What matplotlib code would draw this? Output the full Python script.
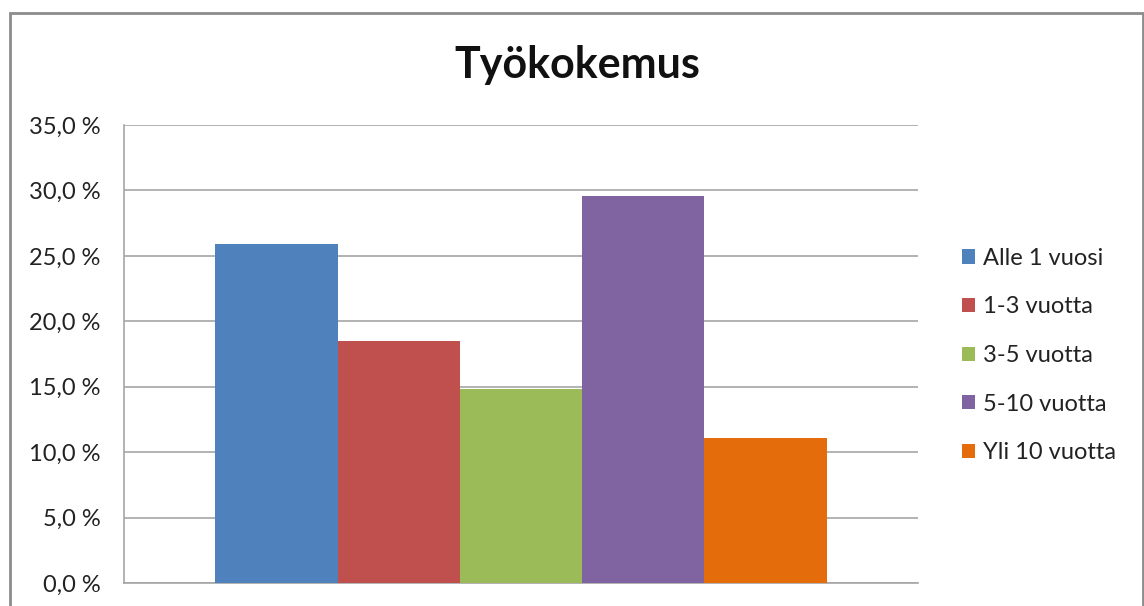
import numpy as np
import matplotlib
matplotlib.use("Agg")
import matplotlib.pyplot as plt
from matplotlib.patches import Rectangle

# ---- data ----
TITLE = "Työkokemus"
SERIES = ["Alle 1 vuosi", "1-3 vuotta", "3-5 vuotta", "5-10 vuotta", "Yli 10 vuotta"]
VALUES = [25.9, 18.5, 14.8, 29.6, 11.1]          # %
COLORS = ["#4F81BD", "#C0504D", "#9BBB59", "#8064A2", "#E46C0A"]
YTICKS = np.arange(0, 35.1, 5)

plt.rcParams["font.family"] = ["Lato", "DejaVu Sans"]

W, H = 1144, 606
fig = plt.figure(figsize=(W / 100, H / 100), dpi=100)
ax = fig.add_axes([124 / W, 23 / H, 794 / W, 458 / H])

group = 611 / 794                                 # share of the axis taken by the bars
w = group / len(SERIES)
x0 = -group / 2 + w / 2
for i, (lab, v, c) in enumerate(zip(SERIES, VALUES, COLORS)):
    ax.bar(x0 + i * w, v, width=w, color=c, label=lab, zorder=3)

ax.set_xlim(-0.5, 0.5)
ax.set_ylim(0, 35)
ax.set_yticks(YTICKS)
ax.yaxis.set_major_formatter(matplotlib.ticker.FuncFormatter(
    lambda t, p: ("%.1f %%" % t).replace(".", ",")))
ax.set_xticks([])
ax.tick_params(axis="y", length=0, pad=17, labelsize=17, colors="#222222")
ax.grid(axis="y", color="#a6a6a6", lw=1.2, zorder=0)
for s in ["top", "right"]:
    ax.spines[s].set_visible(False)
for s in ["left", "bottom"]:
    ax.spines[s].set_color("#a6a6a6")
    ax.spines[s].set_linewidth(1.2)

fig.text(577 / W, 1 - 65 / H, TITLE, ha="center", va="center",
         fontsize=31, fontweight="bold", color="#111111")

leg = ax.legend(loc="upper left", bbox_to_anchor=(950 / W, 1 - 236 / H),
                bbox_transform=fig.transFigure, frameon=False,
                fontsize=17, handlelength=0.55, handleheight=0.55,
                handletextpad=0.35, labelspacing=1.17, borderpad=0)
for t in leg.get_texts():
    t.set_color("#222222")

# outer chart frame
fig.patches.append(Rectangle((9.5 / W, -0.02), (1143 - 9.5) / W, 1 - 12.5 / H + 0.02,
                             transform=fig.transFigure, fill=False,
                             edgecolor="#8c8c8c", lw=2))

fig.savefig("out.png", dpi=100)
